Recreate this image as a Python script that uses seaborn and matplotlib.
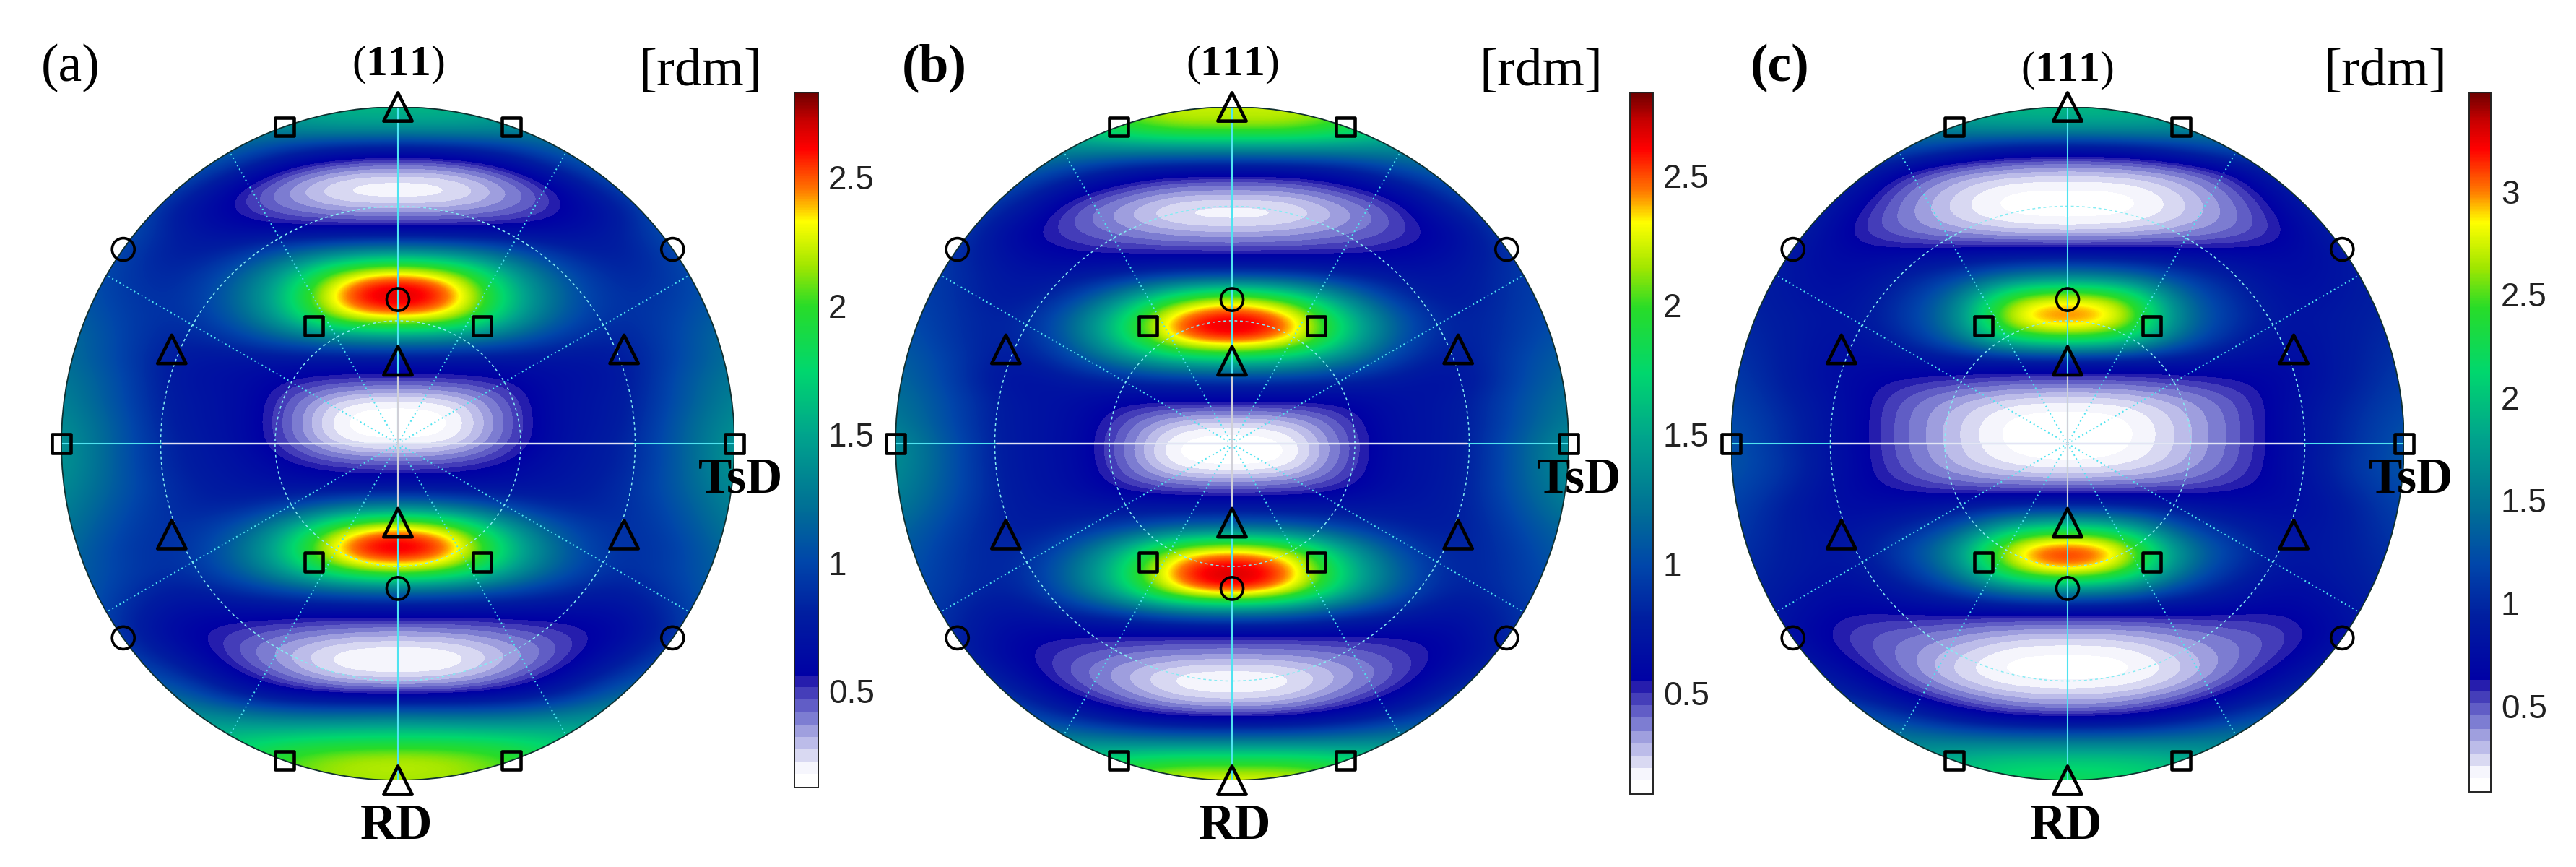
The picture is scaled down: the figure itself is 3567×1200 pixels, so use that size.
import numpy as np
import pandas as pd
import matplotlib
matplotlib.use("Agg")
import matplotlib.pyplot as plt
from matplotlib.colors import LinearSegmentedColormap, ListedColormap
from matplotlib.patches import Circle
import seaborn as sns

# ---- data (half-grid u = 0, 1/6 .. 1; rows v = 1 .. -1 in 1/16 steps)
field_a = [
 [1.60,1.60,1.50,1.40,1.30,1.25,1.20],
 [1.45,1.45,1.40,1.30,1.25,1.25,1.20],
 [0.70,0.75,0.90,1.20,1.25,1.25,1.20],
 [0.30,0.33,0.50,0.85,1.20,1.25,1.20],
 [0.14,0.15,0.33,0.56,0.95,1.25,1.20],
 [0.35,0.36,0.42,0.55,0.75,1.20,1.25],
 [0.65,0.65,0.65,0.65,0.78,1.10,1.25],
 [1.50,1.40,1.15,0.85,0.75,1.00,1.20],
 [2.55,2.30,1.50,1.05,0.80,0.95,1.15],
 [2.85,2.60,1.65,1.10,0.85,0.95,1.15],
 [2.45,2.30,1.55,1.05,0.85,0.98,1.20],
 [1.35,1.30,1.15,0.90,0.80,1.00,1.25],
 [0.70,0.70,0.70,0.70,0.75,1.00,1.25],
 [0.50,0.50,0.55,0.68,0.72,1.05,1.30],
 [0.18,0.20,0.48,0.70,0.75,1.05,1.35],
 [0.12,0.12,0.46,0.70,0.75,1.10,1.40],
 [0.17,0.19,0.48,0.70,0.80,1.10,1.45],
 [0.48,0.50,0.58,0.72,0.80,1.10,1.45],
 [0.65,0.65,0.68,0.74,0.85,1.10,1.40],
 [1.30,1.20,0.95,0.80,0.85,1.05,1.35],
 [2.50,2.20,1.45,1.00,0.85,1.00,1.30],
 [2.85,2.60,1.65,1.10,0.85,0.95,1.25],
 [2.30,2.10,1.50,1.05,0.85,0.98,1.20],
 [1.15,1.10,1.00,0.85,0.75,0.95,1.20],
 [0.62,0.62,0.62,0.62,0.65,0.90,1.20],
 [0.33,0.35,0.42,0.50,0.60,0.90,1.20],
 [0.15,0.16,0.30,0.47,0.72,1.00,1.20],
 [0.19,0.21,0.38,0.60,0.92,1.15,1.25],
 [0.55,0.58,0.65,0.85,1.20,1.30,1.30],
 [1.30,1.25,1.25,1.35,1.45,1.40,1.30],
 [1.80,1.80,1.75,1.65,1.55,1.40,1.30],
 [2.25,2.20,2.05,1.80,1.60,1.40,1.30],
 [2.15,2.15,2.05,1.80,1.60,1.40,1.30],
]
field_b = [
 [2.20,2.25,2.10,1.75,1.50,1.30,1.20],
 [2.15,2.15,1.95,1.65,1.45,1.30,1.20],
 [1.35,1.35,1.35,1.35,1.35,1.30,1.20],
 [0.60,0.62,0.72,0.98,1.20,1.25,1.20],
 [0.33,0.33,0.45,0.62,0.98,1.15,1.15],
 [0.14,0.15,0.30,0.46,0.78,1.05,1.10],
 [0.30,0.32,0.38,0.47,0.60,1.00,1.05],
 [0.52,0.53,0.53,0.56,0.65,0.90,1.00],
 [0.90,0.90,0.80,0.70,0.70,0.90,1.00],
 [2.20,1.90,1.30,0.85,0.70,0.90,1.00],
 [2.75,2.55,1.70,1.05,0.75,0.90,1.05],
 [2.70,2.50,1.70,1.05,0.75,0.90,1.10],
 [1.70,1.60,1.30,0.90,0.70,0.95,1.15],
 [0.85,0.85,0.80,0.72,0.65,0.95,1.20],
 [0.55,0.55,0.55,0.68,0.72,1.00,1.25],
 [0.22,0.24,0.47,0.68,0.72,1.00,1.30],
 [0.11,0.11,0.43,0.68,0.72,1.05,1.40],
 [0.12,0.13,0.45,0.68,0.72,1.05,1.40],
 [0.40,0.41,0.50,0.68,0.74,1.05,1.35],
 [0.70,0.70,0.70,0.72,0.75,1.00,1.30],
 [1.15,1.10,0.95,0.80,0.75,0.95,1.20],
 [2.40,2.20,1.50,0.98,0.78,0.90,1.15],
 [2.80,2.60,1.70,1.10,0.78,0.90,1.10],
 [2.70,2.40,1.60,1.05,0.75,0.90,1.05],
 [1.20,1.15,0.95,0.80,0.65,0.85,1.05],
 [0.55,0.55,0.55,0.55,0.60,0.85,1.00],
 [0.35,0.36,0.40,0.48,0.57,0.85,1.00],
 [0.15,0.16,0.30,0.44,0.68,1.00,1.10],
 [0.18,0.21,0.38,0.57,0.88,1.10,1.15],
 [0.50,0.52,0.65,0.85,1.10,1.20,1.20],
 [1.15,1.15,1.20,1.30,1.35,1.30,1.20],
 [1.90,1.90,1.80,1.65,1.50,1.30,1.20],
 [2.30,2.30,2.10,1.75,1.50,1.30,1.20],
]
field_c = [
 [1.95,1.95,1.90,1.70,1.50,1.30,1.20],
 [1.75,1.75,1.70,1.55,1.40,1.30,1.20],
 [0.75,0.80,1.00,1.30,1.35,1.30,1.20],
 [0.30,0.32,0.40,0.65,1.10,1.25,1.20],
 [0.12,0.11,0.25,0.47,0.85,1.20,1.20],
 [0.10,0.10,0.22,0.42,0.70,1.10,1.15],
 [0.25,0.28,0.35,0.45,0.62,1.00,1.10],
 [0.80,0.80,0.75,0.70,0.68,0.85,1.05],
 [1.50,1.40,1.10,0.90,0.70,0.85,1.00],
 [2.80,2.60,1.40,1.00,0.75,0.85,1.00],
 [3.20,3.00,1.50,1.05,0.78,0.90,1.00],
 [2.50,2.30,1.40,0.95,0.75,0.90,1.05],
 [0.85,0.85,0.85,0.75,0.72,0.90,1.10],
 [0.50,0.50,0.55,0.62,0.70,0.90,1.15],
 [0.18,0.20,0.33,0.50,0.75,0.95,1.20],
 [0.09,0.10,0.28,0.48,0.75,1.00,1.25],
 [0.09,0.10,0.28,0.48,0.75,1.00,1.30],
 [0.13,0.17,0.30,0.50,0.75,1.05,1.30],
 [0.42,0.43,0.48,0.58,0.72,1.00,1.25],
 [0.95,0.95,0.85,0.75,0.72,0.90,1.20],
 [2.20,2.00,1.20,0.95,0.78,0.90,1.15],
 [3.35,3.00,1.60,1.10,0.80,0.90,1.10],
 [3.10,2.70,1.50,1.00,0.78,0.90,1.05],
 [1.60,1.50,1.10,0.85,0.70,0.85,1.05],
 [0.65,0.65,0.65,0.65,0.62,0.80,1.00],
 [0.30,0.32,0.40,0.47,0.55,0.78,1.00],
 [0.13,0.13,0.28,0.42,0.60,0.88,1.05],
 [0.10,0.10,0.22,0.46,0.78,1.00,1.10],
 [0.25,0.28,0.42,0.70,1.00,1.15,1.20],
 [0.55,0.60,0.80,1.10,1.35,1.30,1.25],
 [1.40,1.40,1.45,1.55,1.55,1.35,1.25],
 [2.05,2.05,1.95,1.75,1.60,1.35,1.25],
 [2.25,2.20,2.00,1.75,1.60,1.35,1.25],
]
panel_labels = ["(a)", "(b)", "(c)"]
cbar_ticks_ab = [0.5, 1, 1.5, 2, 2.5]
cbar_ticks_c = [0.5, 1, 1.5, 2, 2.5, 3]
cbar_ticklabels_ab = ["0.5", "1", "1.5", "2", "2.5"]
cbar_ticklabels_c = ["0.5", "1", "1.5", "2", "2.5", "3"]
value_limits = [(0.124, 2.83), (0.11, 2.82), (0.082, 3.48)]

square_u = [1, -1, 0.336, -0.336, 0.336, -0.336, 0.25, -0.25, 0.25, -0.25]
square_v = [0, 0, 0.941, 0.941, -0.941, -0.941, 0.349, 0.349, -0.351, -0.351]
circle_u = [0.816, -0.816, 0.816, -0.816, 0, 0]
circle_v = [0.577, 0.577, -0.577, -0.577, 0.428, -0.43]
triangle_u = [0, 0, 0.672, -0.672, 0.672, -0.672, 0, 0]
triangle_v = [1.0, -1.0, 0.28, 0.28, -0.27, -0.27, 0.246, -0.235]
spoke_angles = [30, 60, 120, 150, 210, 240, 300, 330]
ring_radii = [0.365, 0.705]

# ---- style
sns.set_theme(style="white")
plt.rcParams["font.family"] = ["Liberation Serif", "DejaVu Serif"]
plt.rcParams["mathtext.fontset"] = "custom"
plt.rcParams["mathtext.rm"] = "Liberation Serif"
plt.rcParams["mathtext.bf"] = "Liberation Serif:bold"

anchors = [
 (0.000, (255, 255, 255)), (0.014, (252, 252, 255)), (0.030, (225, 225, 245)),
 (0.055, (185, 185, 232)), (0.090, (125, 125, 210)), (0.140, (45, 35, 175)),
 (0.158, (0, 0, 165)), (0.250, (0, 30, 160)), (0.325, (0, 70, 170)),
 (0.400, (0, 110, 150)), (0.510, (0, 165, 140)), (0.600, (0, 215, 110)),
 (0.693, (40, 220, 40)), (0.750, (160, 230, 0)), (0.815, (255, 255, 0)),
 (0.860, (255, 120, 0)), (0.920, (255, 0, 0)), (0.960, (200, 0, 0)), (1.000, (110, 0, 0)),
]
base = LinearSegmentedColormap.from_list(
    "rdm", [(p, tuple(c / 255 for c in col)) for p, col in anchors], N=512)
fracs = np.linspace(0, 1, 512)
fracs = np.where(fracs < 0.16, np.floor(fracs / 0.018) * 0.018, fracs)
rdm_cmap = ListedColormap(base(fracs))

W, H = 3567, 1200
fig = plt.figure(figsize=(W / 100, H / 100), dpi=100, facecolor="white")


def box(x0, y0, x1, y1):
    return [x0 / W, 1 - y1 / H, (x1 - x0) / W, (y1 - y0) / H]


def put(x, y, s, **kw):
    kw.setdefault("ha", "center")
    kw.setdefault("va", "center")
    fig.text(x / W, 1 - y / H, s, color="black", **kw)


panels = [
    dict(field=field_a, cx=551, bar=(1100, 128, 1133, 1090), ticks=cbar_ticks_ab,
         tl=cbar_ticklabels_ab, lab=(98, 94), lab_w="normal", t111=(551, 90), rdm=(970, 100),
         rd=549, tsd=1026),
    dict(field=field_b, cx=1706, bar=(2257, 128, 2289, 1099), ticks=cbar_ticks_ab,
         tl=cbar_ticklabels_ab, lab=(1294, 94), lab_w="bold", t111=(1706, 90), rdm=(2134, 100),
         rd=1710, tsd=2187),
    dict(field=field_c, cx=2863, bar=(3419, 128, 3449, 1096), ticks=cbar_ticks_c,
         tl=cbar_ticklabels_c, lab=(2465, 94), lab_w="bold", t111=(2862, 98), rdm=(3303, 100),
         rd=2861, tsd=3339),
]
CY, R = 614, 466
CYAN = "#4fe3f0"

for p, (vmin, vmax), label in zip(panels, value_limits, panel_labels):
    half = np.array(p["field"])
    grid = np.hstack([half[:, :0:-1], half])
    du, dv = 1 / 6, 1 / 16

    ax = fig.add_axes(box(p["cx"] - R, CY - R, p["cx"] + R, CY + R))
    im = ax.imshow(grid, cmap=rdm_cmap, vmin=vmin, vmax=vmax, aspect="auto",
                   extent=[-1 - du / 2, 1 + du / 2, -1 - dv / 2, 1 + dv / 2],
                   interpolation="bicubic", interpolation_stage="data", origin="upper")
    rim = Circle((0, 0), 1, transform=ax.transData, fc="none", ec="#103030", lw=1.3, zorder=3)
    ax.add_patch(rim)
    im.set_clip_path(rim)

    for ang in spoke_angles:
        spoke = pd.DataFrame({"u": [0, np.cos(np.radians(ang))], "v": [0, np.sin(np.radians(ang))]})
        sns.lineplot(data=spoke, x="u", y="v", ax=ax, color=CYAN, lw=1.4, ls=(0, (1, 2)),
                     estimator=None, sort=False, legend=False, zorder=2)
    for r in ring_radii:
        ax.add_patch(Circle((0, 0), r, fc="none", ec="#86ecf3", lw=1.1, ls=(0, (2.5, 2.5)), zorder=2))
    sns.lineplot(x=[-1, 1], y=[0, 0], ax=ax, color=CYAN, lw=1.5, estimator=None, sort=False,
                 legend=False, zorder=2)
    sns.lineplot(x=[-0.7, 0.7], y=[0, 0], ax=ax, color="#e4e4f4", lw=1.7, estimator=None,
                 sort=False, legend=False, zorder=2)
    sns.lineplot(x=[0, 0], y=[-1, 1], ax=ax, color=CYAN, lw=1.5, estimator=None, sort=False,
                 legend=False, zorder=2)
    sns.lineplot(x=[0, 0], y=[-0.2, 0.2], ax=ax, color="#d0d0d8", lw=1.5, estimator=None,
                 sort=False, legend=False, zorder=2)

    for us, vs, mk, size, lw in [(square_u, square_v, "s", 350, 3.3),
                                 (circle_u, circle_v, "o", 500, 2.6),
                                 (triangle_u, triangle_v, "^", 800, 3.3)]:
        sns.scatterplot(x=us, y=vs, ax=ax, marker=mk, s=size, edgecolor="black", linewidth=lw,
                        clip_on=False, zorder=4, legend=False)
        ax.collections[-1].set_facecolor("none")

    ax.set_xlim(-1, 1)
    ax.set_ylim(-1, 1)
    ax.axis("off")

    cax = fig.add_axes(box(*p["bar"]))
    cb = fig.colorbar(im, cax=cax, ticks=p["ticks"])
    cb.ax.set_yticklabels(p["tl"], family="Liberation Sans", fontsize=33, color="#222222")
    cb.ax.tick_params(direction="in", length=8, width=1.2, color="#402020", pad=10, right=True, left=False)
    cb.outline.set_edgecolor("#222222")
    cb.outline.set_linewidth(1.4)

    put(*p["lab"], label, fontsize=53, fontweight=p["lab_w"])
    put(*p["t111"], r"$\mathrm{(}\mathbf{111}\mathrm{)}$", fontsize=43)
    put(*p["rdm"], "[rdm]", fontsize=54)
    put(p["rd"], 1144, "RD", fontsize=50, fontweight="bold")
    put(p["tsd"], 664, "TsD", fontsize=50, fontweight="bold")

fig.savefig("out.png", dpi=100)
